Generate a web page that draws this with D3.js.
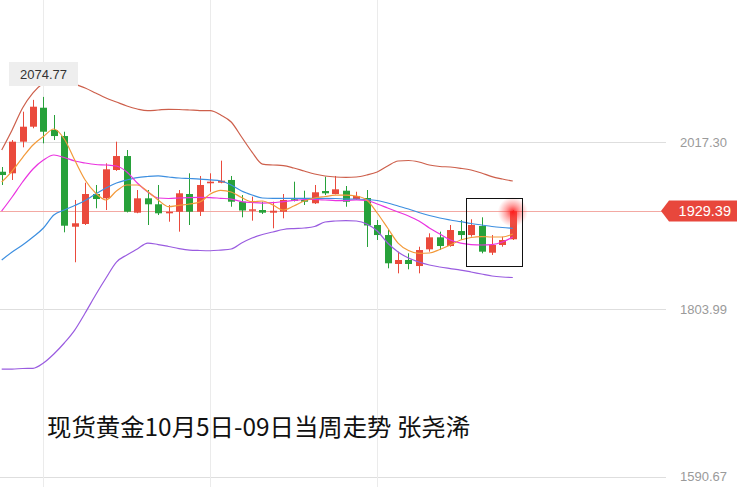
<!DOCTYPE html>
<html><head><meta charset="utf-8">
<script src="https://cdn.jsdelivr.net/npm/d3@7/dist/d3.min.js"></script>
<style>html,body{margin:0;padding:0;background:#fff;}svg{display:block;}</style>
</head><body>
<svg id="chart" width="737" height="487"></svg>
<script>
// ---- data (price units) ----
const openP  = [1979.4,1977.4,2017.7,2036.8,2061.0,2032.6,2024.9,1909.3,1912.8,1951.0,1945.5,1981.6,1999.4,1927.2,1945.5,1937.9,1926.4,1928.4,1951.0,1928.4,1964.7,1965.4,1968.9,1941.2,1929.7,1930.6,1927.2,1928.4,1944.3,1943.4,1939.2,1954.8,1951.0,1955.2,1944.6,1945.9,1911.5,1898.7,1861.8,1866.9,1859.2,1880.5,1895.8,1884.7,1903.8,1898.7,1910.2,1876.2,1886.0,1893.3];
const highP  = [1985.4,2019.8,2055.9,2071.0,2074.77,2051.7,2030.4,1943.4,1965.4,1962.5,1990.1,2017.7,2007.1,1956.1,1956.1,1962.5,1937.0,1956.1,1977.4,1974.0,1977.4,1993.5,1974.0,1949.7,1947.6,1941.2,1941.2,1951.0,1966.7,1955.2,1962.5,1973.1,1974.0,1961.2,1953.9,1956.1,1917.9,1905.1,1877.5,1875.4,1883.8,1900.9,1903.0,1911.5,1917.9,1918.8,1921.3,1898.7,1896.6,1930.6];
const lowP   = [1962.5,1968.9,2010.5,2034.8,2015.6,2019.8,1902.2,1864.0,1911.5,1932.8,1930.6,1980.5,1927.5,1926.5,1911.5,1924.2,1915.7,1903.0,1911.5,1923.0,1953.9,1964.7,1934.8,1921.3,1917.0,1925.5,1907.3,1920.0,1941.5,1937.0,1938.3,1949.7,1950.5,1934.8,1943.4,1883.5,1892.4,1856.3,1849.9,1855.0,1849.9,1877.5,1879.6,1883.8,1892.4,1896.6,1875.4,1873.3,1883.8,1892.4];
const closeP = [1975.2,2017.7,2036.8,2062.3,2030.4,2024.9,1910.6,1913.7,1951.0,1944.6,1982.5,1999.4,1928.4,1945.5,1937.9,1926.4,1928.4,1951.9,1928.4,1962.5,1966.7,1968.0,1941.2,1930.0,1931.5,1927.2,1929.7,1943.4,1942.5,1941.2,1953.2,1951.9,1957.0,1941.2,1948.5,1910.9,1898.7,1862.7,1866.9,1861.8,1879.6,1895.8,1884.7,1905.1,1898.7,1911.5,1877.5,1886.0,1892.4,1929.39];
const ma5    = [1966.3,1980.3,1997.5,2013.5,2024.3,2033.9,2021.1,1994.3,1968.9,1952.3,1943.4,1954.8,1962.5,1962.5,1954.2,1943.4,1934.8,1936.6,1938.3,1940.8,1951.0,1955.7,1953.6,1946.5,1941.2,1942.1,1937.0,1930.6,1935.7,1942.1,1945.9,1947.8,1949.5,1949.7,1948.5,1943.4,1926.8,1907.7,1888.5,1879.0,1875.4,1875.8,1880.3,1886.0,1892.4,1895.6,1896.8,1896.2,1896.2,1900.0];
const ma10   = [1929.3,1947.2,1966.3,1982.9,1994.3,2000.7,1997.5,1993.1,1990.5,1988.6,1988.0,1986.7,1979.1,1965.0,1953.6,1945.9,1945.3,1945.9,1946.5,1946.8,1946.5,1945.5,1944.6,1941.4,1940.2,1939.5,1939.9,1941.4,1942.7,1944.0,1944.0,1943.4,1942.7,1942.7,1943.4,1942.7,1938.3,1933.2,1928.1,1923.0,1916.6,1907.7,1900.0,1892.4,1888.5,1886.6,1886.0,1886.6,1889.8,1896.2];
const ma20   = [1866.9,1877.1,1886.0,1896.2,1907.7,1924.2,1930.6,1936.3,1942.7,1951.0,1958.7,1965.0,1968.9,1972.0,1973.3,1974.0,1972.7,1971.4,1970.8,1970.1,1968.9,1967.6,1962.5,1954.8,1949.7,1945.9,1945.5,1945.5,1945.5,1945.5,1945.5,1945.5,1945.3,1944.6,1944.4,1944.0,1942.7,1939.5,1935.7,1931.9,1927.4,1923.6,1920.4,1917.9,1915.7,1913.4,1911.5,1909.6,1908.3,1907.3];
const bollUp = [2007.1,2032.6,2060.6,2079.8,2092.5,2098.9,2096.3,2091.2,2086.1,2079.8,2073.4,2068.3,2063.2,2059.4,2057.2,2058.1,2059.0,2058.7,2058.1,2057.4,2057.2,2051.7,2042.8,2023.7,2004.5,1989.2,1988.0,1987.3,1984.2,1980.3,1976.5,1974.0,1972.7,1972.3,1972.7,1975.2,1979.1,1986.7,1993.1,1993.7,1991.8,1988.0,1986.1,1985.4,1983.8,1981.6,1977.8,1973.1,1970.1,1967.6];
const bollDn = [1727.9,1727.9,1728.6,1728.8,1735.6,1747.1,1761.1,1777.6,1799.3,1822.3,1843.9,1864.3,1873.3,1880.9,1888.5,1886.6,1884.1,1881.5,1879.6,1879.0,1878.7,1879.6,1880.9,1888.5,1894.9,1899.4,1902.6,1905.8,1907.0,1907.7,1909.6,1915.3,1916.6,1917.2,1916.6,1912.8,1903.8,1888.5,1877.1,1869.4,1864.3,1860.5,1858.0,1856.0,1854.1,1851.6,1849.0,1846.5,1845.2,1844.6];
const axisTicks = [2017.30, 1803.99, 1590.67];
const lastPrice = 1929.39;
const highLabel = 2074.77;
const title = "现货黄金10月5日-09日当周走势 张尧浠";

// ---- drawing ----
const W = 737, H = 487;
const svg = d3.select("#chart");
const n = closeP.length;
const x = d3.scaleLinear().domain([0, n - 1]).range([1.7, 512.8]);
const y = d3.scaleLinear().domain([1590.67, 2017.30]).range([476.7, 142]);

const UP = "#ea4a3c", DOWN = "#27a13a";

// grid
const grid = svg.append("g");
axisTicks.forEach(t => {
  grid.append("line").attr("x1", 0).attr("x2", 666)
    .attr("y1", Math.round(y(t)) + 0.5).attr("y2", Math.round(y(t)) + 0.5)
    .attr("stroke", "#dedede").attr("stroke-width", 1);
});
[43, 210, 377].forEach(v => {
  grid.append("line").attr("x1", v + 0.5).attr("x2", v + 0.5).attr("y1", 0).attr("y2", H)
    .attr("stroke", "#ebebeb").attr("stroke-width", 1);
});
// last price line
svg.append("line").attr("x1", 0).attr("x2", 662)
  .attr("y1", Math.round(y(lastPrice)) + 0.5).attr("y2", Math.round(y(lastPrice)) + 0.5)
  .attr("stroke", "#f3a9a3").attr("stroke-width", 1);

// candles
const idx = d3.range(n);
const cw = 7;
const cg = svg.append("g");
idx.forEach(i => {
  const up = closeP[i] >= openP[i];
  const col = up ? UP : DOWN;
  const cx = Math.round(x(i)) + 0.5;
  cg.append("line").attr("x1", cx).attr("x2", cx)
    .attr("y1", y(highP[i])).attr("y2", y(lowP[i]))
    .attr("stroke", col).attr("stroke-width", 1);
  const top = y(Math.max(openP[i], closeP[i]));
  const bot = y(Math.min(openP[i], closeP[i]));
  cg.append("rect").attr("x", cx - cw / 2).attr("width", cw)
    .attr("y", top).attr("height", Math.max(1.5, bot - top))
    .attr("fill", col);
});

// lines
const lineGen = d3.line().x((d, i) => x(i)).y(d => y(d)).curve(d3.curveMonotoneX);
const series = [
  [bollUp, "#cd5f4b"],
  [bollDn, "#9a5ce0"],
  [ma20, "#3d8fe0"],
  [ma10, "#ea33e0"],
  [ma5, "#f39a3a"]
];
series.forEach(([arr, col]) => {
  svg.append("path").datum(arr).attr("d", lineGen)
    .attr("fill", "none").attr("stroke", col).attr("stroke-width", 1.2);
});

// glow on last candle
const defs = svg.append("defs");
const rg = defs.append("radialGradient").attr("id", "glow");
rg.append("stop").attr("offset", "0%").attr("stop-color", "#ff1a1a").attr("stop-opacity", 0.95);
rg.append("stop").attr("offset", "45%").attr("stop-color", "#ff4040").attr("stop-opacity", 0.5);
rg.append("stop").attr("offset", "100%").attr("stop-color", "#ff6060").attr("stop-opacity", 0);
svg.append("circle").attr("cx", x(n - 1)).attr("cy", y(closeP[n - 1]) + 1).attr("r", 15)
  .attr("fill", "url(#glow)");

// highlight box
svg.append("rect").attr("x", 466.5).attr("y", 198.5).attr("width", 56).attr("height", 68)
  .attr("fill", "none").attr("stroke", "#111").attr("stroke-width", 1);

// axis labels
axisTicks.forEach(t => {
  svg.append("text").attr("x", 727).attr("y", y(t)).attr("dy", "0.36em")
    .attr("text-anchor", "end").attr("fill", "#9a9a9a")
    .attr("font-family", "Liberation Sans, Arial, sans-serif").attr("font-size", 13)
    .text(t.toFixed(2));
});

// last price tag
const ly = y(lastPrice);
svg.append("path")
  .attr("d", `M661,${ly} L669,${ly - 10.5} L737,${ly - 10.5} L737,${ly + 10.5} L669,${ly + 10.5} Z`)
  .attr("fill", "#e8473c");
svg.append("text").attr("x", 731).attr("y", ly).attr("dy", "0.36em")
  .attr("text-anchor", "end").attr("fill", "#fff")
  .attr("font-family", "Liberation Sans, Arial, sans-serif").attr("font-size", 14.5)
  .text(lastPrice.toFixed(2));

// high label
svg.append("rect").attr("x", 9).attr("y", 62).attr("width", 69).attr("height", 24)
  .attr("fill", "#eeeeee");
svg.append("text").attr("x", 43.5).attr("y", 74).attr("dy", "0.36em")
  .attr("text-anchor", "middle").attr("fill", "#333")
  .attr("font-family", "Liberation Sans, Arial, sans-serif").attr("font-size", 13)
  .text(highLabel.toFixed(2));

// title
svg.append("text").attr("x", 47).attr("y", 436)
  .attr("fill", "#111").attr("font-family", "Noto Sans CJK SC, sans-serif")
  .attr("font-size", 24.4).text(title);
</script>
</body></html>
